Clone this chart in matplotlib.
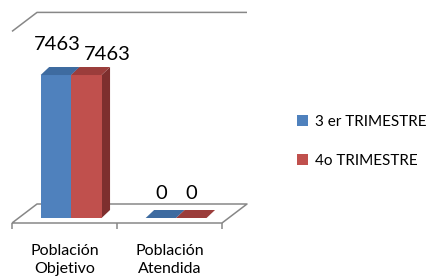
import matplotlib
matplotlib.use("Agg")
import matplotlib.pyplot as plt
from matplotlib.patches import Polygon
import numpy as np

plt.rcParams['font.family'] = ['Lato', 'DejaVu Sans']

categories = ["Población\nObjetivo", "Población\nAtendida"]
series_names = ["3 er TRIMESTRE", "4o TRIMESTRE"]
values_t3 = [7463, 0]
values_t4 = [7463, 0]

front_colors = ["#4F81BD", "#C0504D"]
top_colors = ["#3E6BA0", "#9B3D3B"]
side_colors = ["#33557F", "#7E2F2E"]
line_col = "#878787"

W, H = 428, 279
fig = plt.figure(figsize=(W / 100, H / 100), dpi=100)
# axes spanning the front plane of the bars
ax_l, ax_r, ax_b, ax_t = 18.6, 228.6, 218.0, 26.4
ax = fig.add_axes([ax_l / W, (H - ax_b) / H, (ax_r - ax_l) / W, (ax_b - ax_t) / H])
ax.set_xlim(-0.5, 1.5)
ax.set_ylim(0, 10000)
ax.axis("off")

px_x = (1.5 - (-0.5)) / (ax_r - ax_l)      # data units per pixel in x
px_y = 10000 / (ax_b - ax_t)               # data units per pixel in y

def off(x, y, dx, dy):
    return (x + dx * px_x, y + dy * px_y)

ymax = 10000
# floor: front edge (-6.6, -5 px), back edge (+18.4, +14 px)
fl = off(-0.5, 0, -6.6, -5); fr = off(1.5, 0, -6.6, -5)
bl = off(-0.5, 0, 18.4, 14); br = off(1.5, 0, 18.4, 14)
lw = 1.1
kw = dict(color=line_col, lw=lw, clip_on=False, solid_capstyle="butt")
ax.plot([fl[0], fr[0], br[0], bl[0], fl[0]], [fl[1], fr[1], br[1], bl[1], fl[1]], **kw)
# left wall top edge & back wall top edge
wl = off(-0.5, ymax, -6.6, -5); wb = off(-0.5, ymax, 18.4, 14); wr = off(1.5, ymax, 18.4, 14)
ax.plot([wl[0], wb[0], wr[0]], [wl[1], wb[1], wr[1]], **kw)
# ticks on front floor edge
for xt in [-0.5, 0.5, 1.5]:
    a = off(xt, 0, -6.6, -5); b = off(xt, 0, -6.6, -11)
    ax.plot([a[0], b[0]], [a[1], b[1]], **kw)

# bars
bw = 0.29
x = np.arange(len(categories))
ddx, ddy = 8.5 * px_x, 8 * px_y
for i, vals in enumerate([values_t3, values_t4]):
    xs = x + (i - 0.5) * bw
    ax.bar(xs, vals, width=bw, color=front_colors[i], edgecolor="none",
           label=series_names[i], clip_on=False, zorder=3)
    for xc, v in zip(xs, vals):
        x0, x1 = xc - bw / 2, xc + bw / 2
        top = Polygon([(x0, v), (x1, v), (x1 + ddx, v + ddy), (x0 + ddx, v + ddy)],
                      closed=True, fc=top_colors[i], ec="none", zorder=3, clip_on=False)
        ax.add_patch(top)
        if v > 0:
            side = Polygon([(x1, 0), (x1 + ddx, ddy), (x1 + ddx, v + ddy), (x1, v)],
                           closed=True, fc=side_colors[i], ec="none", zorder=2.9, clip_on=False)
            ax.add_patch(side)

# data labels
label_shift = {(0, 0): (1, 0), (0, 1): (21, -10), (1, 0): (0, -6), (1, 1): (0, -6)}
for i, vals in enumerate([values_t3, values_t4]):
    xs = x + (i - 0.5) * bw
    for j, (xc, v) in enumerate(zip(xs, vals)):
        sx, sy = label_shift[(j, i)]
        ax.annotate(f"{v}", (xc, v), xytext=(sx * 0.72, (25 + sy) * 0.72),
                    textcoords="offset points", ha="center", va="baseline",
                    fontsize=14.5, color="black", annotation_clip=False)

# category labels
for xc, lab in zip(x, categories):
    p = off(xc, 0, -6.6, -5)
    ax.annotate(lab, p, xytext=(0, -21 * 0.72), textcoords="offset points",
                ha="center", va="top", fontsize=11.5, linespacing=1.4,
                annotation_clip=False)

leg = fig.legend(loc="upper left", bbox_to_anchor=(291 / W, 1 - 109 / H),
                 frameon=False, fontsize=11, handlelength=0.7, handleheight=0.7,
                 handletextpad=0.5, labelspacing=1.6, borderaxespad=0)

fig.savefig("out.png", dpi=100)
